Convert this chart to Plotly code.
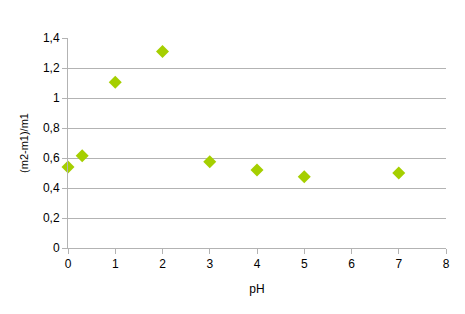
import plotly.graph_objects as go

ph = [0, 0.3, 1, 2, 3, 4, 5, 7]
ratio = [0.54, 0.615, 1.105, 1.31, 0.575, 0.52, 0.475, 0.50]

fig = go.Figure()
fig.add_trace(go.Scatter(
    x=ph, y=ratio, mode="markers", cliponaxis=False,
    marker=dict(symbol="diamond", size=10, color="#a5cf00", line=dict(width=0)),
    showlegend=False,
))

font = dict(family="Liberation Sans, Arial", size=12, color="#000000")
fig.update_layout(
    width=465, height=314,
    margin=dict(l=68, r=19, t=38, b=66),
    paper_bgcolor="white", plot_bgcolor="white",
    separators=",.",
    font=font,
)
fig.update_xaxes(
    range=[0, 8], dtick=1, showgrid=False, zeroline=False,
    showline=True, linecolor="#b3b3b3", linewidth=1,
    ticks="outside", ticklen=5, tickcolor="#b3b3b3",
    title=dict(text="pH", font=dict(size=12), standoff=14),
)
fig.update_yaxes(
    range=[0, 1.4], dtick=0.2, showgrid=True, gridcolor="#b3b3b3", gridwidth=1,
    zeroline=False, showline=True, linecolor="#b3b3b3", linewidth=1,
    ticks="outside", ticklen=5, tickcolor="#b3b3b3",
    title=dict(text="(m2-m1)/m1", font=dict(size=11), standoff=12),
)
fig.write_html("out.html")
